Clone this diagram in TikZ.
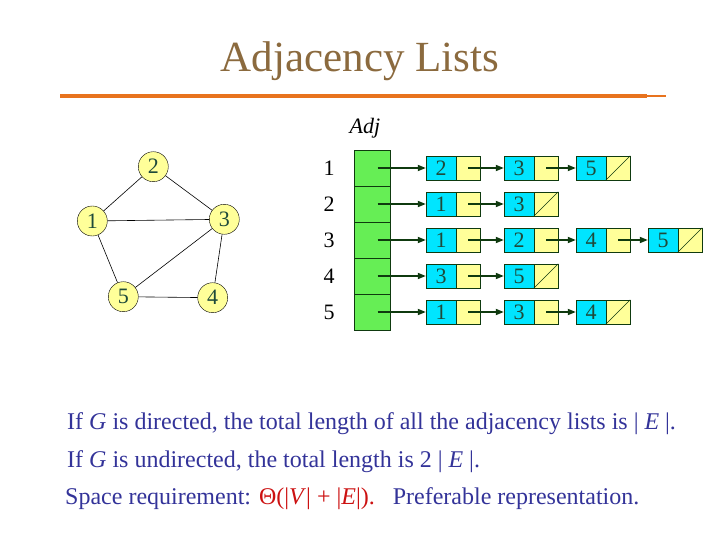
\documentclass[tikz,border=0pt]{standalone}
\usepackage{fontspec}
\setmainfont{Liberation Serif}
\usetikzlibrary{arrows.meta}
\definecolor{titlebrown}{HTML}{8B6A3E}
\definecolor{lineorange}{HTML}{E8731E}
\definecolor{txtblue}{HTML}{333399}
\definecolor{txtred}{HTML}{CC1111}
\definecolor{cellcyan}{HTML}{00E5FF}
\definecolor{cellyellow}{HTML}{FFFF99}
\definecolor{cellgreen}{HTML}{66EE55}
\definecolor{darkgreen}{HTML}{0F3A0F}
\definecolor{numcol}{HTML}{1E4A3A}
\begin{document}
\begin{tikzpicture}[x=1pt,y=-1pt,
  vert/.style={circle,draw=black,fill=cellyellow,minimum size=30pt,inner sep=0pt,font=\fontsize{22}{22}\selectfont,text=numcol},
  edge/.style={draw=black,line width=0.6pt},
  keycell/.style={draw=darkgreen,fill=cellcyan,minimum width=30pt,minimum height=24pt,inner sep=0pt,font=\fontsize{22}{22}\selectfont,text=numcol},
  ptrcell/.style={draw=darkgreen,fill=cellyellow,minimum width=24pt,minimum height=24pt,inner sep=0pt},
  arrcell/.style={draw=darkgreen,fill=cellgreen,minimum width=36pt,minimum height=36pt,inner sep=0pt},
  ptr/.style={draw=darkgreen,line width=1.6pt,-{Triangle[length=8pt,width=6pt]}},
  rowlbl/.style={font=\fontsize{22}{22}\selectfont,text=black},
  body/.style={font=\fontsize{24}{28}\selectfont,text=txtblue,anchor=base west,inner sep=0pt}
]
\useasboundingbox (0,0) rectangle (720,540);
% title
\node[font=\fontsize{43}{43}\selectfont,text=titlebrown] (title) at (360,61) {Adjacency Lists};
\coordinate (l1) at (60,95.7);
\coordinate (l2) at (647,95.7);
\coordinate (l3) at (666,95.7);
\draw[lineorange,line width=4pt] (l1) -- (l2);
\draw[lineorange,line width=2pt] (l2) -- (l3);
% graph
\node[vert] (v2) at (153.3,166.7) {2};
\node[vert] (v1) at (92.3,221) {1};
\node[vert] (v3) at (224.3,219.3) {3};
\node[vert] (v5) at (123.3,296.7) {5};
\node[vert] (v4) at (212.7,297.7) {4};
\draw[edge] (v1) -- (v2);
\draw[edge] (v2) -- (v3);
\draw[edge] (v1) -- (v3);
\draw[edge] (v1) -- (v5);
\draw[edge] (v3) -- (v5);
\draw[edge] (v3) -- (v4);
\draw[edge] (v5) -- (v4);
% Adj array
\node[font=\itshape\fontsize{22}{22}\selectfont] (adj) at (365,128) {Adj};
\foreach \i/\y in {1/168,2/204,3/240,4/276,5/312}{
  \node[arrcell] (a\i) at (372.3,\y) {};
  \node[rowlbl] (r\i) at (329,\y) {\i};
  \coordinate (ap\i) at (377.7,\y);
}
% list cells: name, xleft, y, key
\newcommand{\lcell}[4]{%
  \node[keycell] (#1k) at (#2+15,#3) {#4};
  \node[ptrcell] (#1p) at (#2+42,#3) {};
  \coordinate (#1c) at (#2+42,#3);
}
\newcommand{\nullptr}[1]{\draw[darkgreen,line width=0.6pt] (#1p.south west) -- (#1p.north east);}
% row 1
\lcell{a1x}{426}{168}{2}\lcell{a1y}{504}{168}{3}\lcell{a1z}{576}{168}{5}
\draw[ptr] (ap1) -- (a1xk);
\draw[ptr] (a1xc) -- (a1yk);
\draw[ptr] (a1yc) -- (a1zk);
\nullptr{a1z}
% row 2
\lcell{a2x}{426}{204}{1}\lcell{a2y}{504}{204}{3}
\draw[ptr] (ap2) -- (a2xk);
\draw[ptr] (a2xc) -- (a2yk);
\nullptr{a2y}
% row 3
\lcell{a3x}{426}{240}{1}\lcell{a3y}{504}{240}{2}\lcell{a3z}{576}{240}{4}\lcell{a3w}{648}{240}{5}
\draw[ptr] (ap3) -- (a3xk);
\draw[ptr] (a3xc) -- (a3yk);
\draw[ptr] (a3yc) -- (a3zk);
\draw[ptr] (a3zc) -- (a3wk);
\nullptr{a3w}
% row 4
\lcell{a4x}{426}{276}{3}\lcell{a4y}{504}{276}{5}
\draw[ptr] (ap4) -- (a4xk);
\draw[ptr] (a4xc) -- (a4yk);
\nullptr{a4y}
% row 5
\lcell{a5x}{426}{312}{1}\lcell{a5y}{504}{312}{3}\lcell{a5z}{576}{312}{4}
\draw[ptr] (ap5) -- (a5xk);
\draw[ptr] (a5xc) -- (a5yk);
\draw[ptr] (a5yc) -- (a5zk);
\nullptr{a5z}
% text
\node[body] (t1) at (67,429) {If \textit{G} is directed, the total length of all the adjacency lists is | \textit{E} |.};
\node[body] (t2) at (67,467) {If \textit{G} is undirected, the total length is 2 | \textit{E} |.};
\node[body] (t3) at (65,504) {Space requirement: \textcolor{txtred}{Θ(|\textit{V}| + |\textit{E}|).}\ \ \ Preferable representation.};
\end{tikzpicture}
\end{document}
